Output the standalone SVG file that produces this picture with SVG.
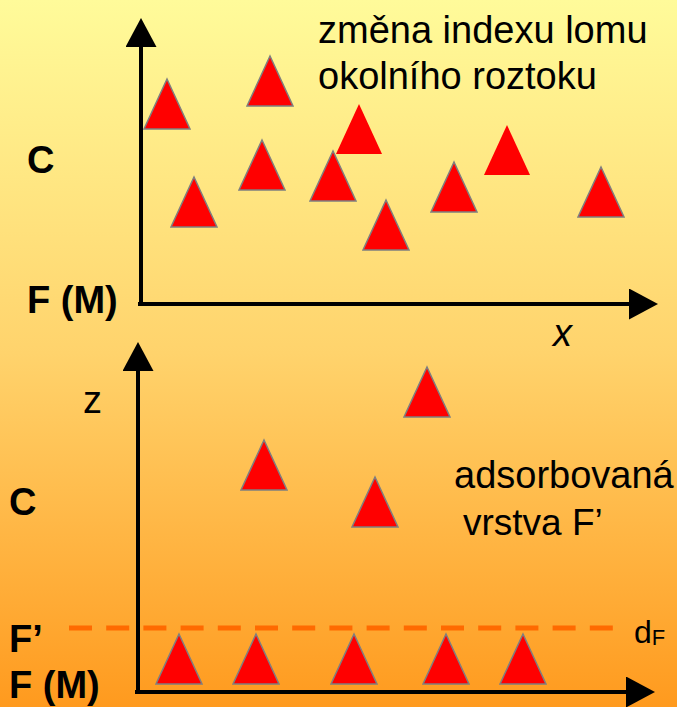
<svg xmlns="http://www.w3.org/2000/svg" width="677" height="707" viewBox="0 0 677 707">
<style>
.lbl{font-family:"Liberation Sans",Arial,sans-serif;fill:#000}
.b{font-weight:bold;font-size:38px}
.r{font-size:38px}
.tri{fill:#FF0000;stroke:#7F7F7F;stroke-width:1.5;stroke-linejoin:miter}
.tri2{fill:#FF0000;stroke:none}
.axis{stroke:#000;stroke-width:4;fill:none;marker-end:url(#ah)}
.dash{stroke:#FF6A00;stroke-width:5;stroke-dasharray:23 14.2;fill:none}
</style>
<defs>
<linearGradient id="bg" x1="0" y1="0" x2="0" y2="1">
<stop offset="0" stop-color="#FFFB9A"/>
<stop offset="0.5" stop-color="#FFD36C"/>
<stop offset="1" stop-color="#FF9A1E"/>
</linearGradient>
<marker id="ah" markerUnits="userSpaceOnUse" markerWidth="30" markerHeight="31" viewBox="0 0 30 31" refX="1" refY="15.5" orient="auto">
<path d="M0 0 L29 15.5 L0 31 Z" fill="#000"/>
</marker>
<path id="t" d="M0 0 L23 50 L-23 50 Z"/>
</defs>
<rect width="677" height="707" fill="url(#bg)"/>

<g id="connectors">
<line class="axis" x1="141" y1="305" x2="141" y2="46"/>
<line class="axis" x1="138" y1="304" x2="630" y2="304"/>
<line class="axis" x1="138" y1="693" x2="138" y2="370"/>
<line class="axis" x1="135" y1="692" x2="627" y2="692"/>
<line class="dash" x1="69" y1="628" x2="614" y2="628"/>
</g>

<g id="labels">
<text class="lbl r" x="318" y="43" font-size="38.5">změna indexu lomu</text>
<text class="lbl r" x="318" y="89" font-size="38.5">okolního roztoku</text>
<text class="lbl b" x="27" y="173">C</text>
<text class="lbl b" x="27" y="313">F (M)</text>
<text class="lbl r" x="553" y="346" font-style="italic">x</text>
<text class="lbl" x="83" y="413" font-size="38">z</text>
<text class="lbl b" x="9" y="515">C</text>
<text class="lbl r" x="454" y="488">adsorbovaná</text>
<text class="lbl" x="463" y="535" font-size="37">vrstva F’</text>
<text class="lbl b" x="9" y="652">F’</text>
<text class="lbl b" x="9" y="698">F (M)</text>
<text class="lbl" x="634" y="643" font-size="32">d<tspan font-size="22" dy="2">F</tspan></text>
</g>

<g id="top-triangles">
<use href="#t" class="tri" x="167" y="79"/>
<use href="#t" class="tri" x="270" y="56"/>
<use href="#t" class="tri" x="262" y="140"/>
<use href="#t" class="tri" x="194" y="177"/>
<use href="#t" class="tri" x="333" y="151"/>
<use href="#t" class="tri2" x="359" y="104"/>
<use href="#t" class="tri" x="386" y="200"/>
<use href="#t" class="tri" x="454" y="162"/>
<use href="#t" class="tri2" x="507" y="125"/>
<use href="#t" class="tri" x="601" y="167"/>
</g>

<g id="bottom-triangles">
<use href="#t" class="tri" x="427" y="367"/>
<use href="#t" class="tri" x="264" y="440"/>
<use href="#t" class="tri" x="375" y="477"/>
<use href="#t" class="tri" x="179" y="634"/>
<use href="#t" class="tri" x="256" y="634"/>
<use href="#t" class="tri" x="354" y="634"/>
<use href="#t" class="tri" x="446" y="634"/>
<use href="#t" class="tri" x="523" y="634"/>
</g>
</svg>
